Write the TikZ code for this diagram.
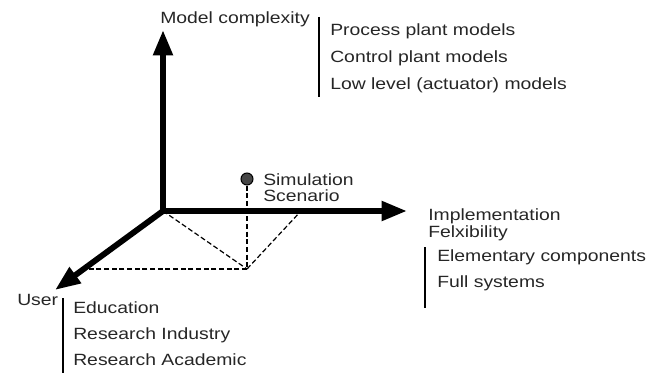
\documentclass[tikz,border=0pt]{standalone}
\usepackage{fontspec}
\setmainfont[FakeStretch=1.19]{Liberation Sans}
\usetikzlibrary{arrows.meta,positioning}

\begin{document}
\begin{tikzpicture}[x=0.75pt,y=-0.75pt,
  axis/.style={line width=4.4pt,-{Triangle[length=19pt,width=14pt]}},
  guide/.style={line width=0.9pt,dash pattern=on 3.75pt off 2pt},
  lab/.style={inner sep=0pt,anchor=base west,text=black!85,font=\fontsize{12.2}{12}\selectfont},
  bar/.style={line width=1.1pt},
  dot/.style={circle,draw,fill=gray!55!black,minimum size=9pt,inner sep=0pt,line width=0.8pt}]
\useasboundingbox (0,0) rectangle (659,374);
% axes frame
\coordinate (o) at (163,211);
\coordinate (zTip) at (163,30);
\coordinate (xTip) at (407,211);
\coordinate (uTip) at (55,290);
\coordinate (floor) at (247,269);
\coordinate (xFoot) at (301,211);
\coordinate (uFoot) at (84,269);
% projection of the scenario point
\node[dot] (sim) at (247,179) {};
\draw[guide] (sim)--(floor);\draw[guide] (o)--(floor);\draw[guide] (floor)--(xFoot);\draw[guide] (floor)--(uFoot);
\draw[axis] (o)--(zTip);\draw[axis] (o)--(xTip);\draw[axis] (o)--(uTip);
\node[lab] (simA) at (263,185) {Simulation};
\node[lab,below=12pt of simA.base west,anchor=base west] (simB) {Scenario};
% model complexity
\node[lab] (model) at (160,24) {Model complexity};
\node[lab] (m1) at (330,36) {Process plant models};
\node[lab,below=20.25pt of m1.base west,anchor=base west] (m2) {Control plant models};
\node[lab,below=20.25pt of m2.base west,anchor=base west] (m3) {Low level (actuator) models};
\coordinate (mTop) at (319,17);\coordinate (mBot) at (319,97);
\draw[bar] (mTop)--(mBot);
% implementation flexibility
\node[lab] (impl) at (428,220) {Implementation};
\node[lab,below=12.75pt of impl.base west,anchor=base west] (flex) {Felxibility};
\node[lab] (i1) at (437,261) {Elementary components};
\node[lab,below=19.5pt of i1.base west,anchor=base west] (i2) {Full systems};
\coordinate (iTop) at (425,247);\coordinate (iBot) at (425,308);
\draw[bar] (iTop)--(iBot);
% user
\node[lab] (user) at (17,305) {User};
\node[lab] (u1) at (73,313) {Education};
\node[lab,below=19.5pt of u1.base west,anchor=base west] (u2) {Research Industry};
\node[lab,below=19.5pt of u2.base west,anchor=base west] (u3) {Research Academic};
\coordinate (uTop) at (63,298);\coordinate (uBot) at (63,373);
\draw[bar] (uTop)--(uBot);
\end{tikzpicture}
\end{document}
